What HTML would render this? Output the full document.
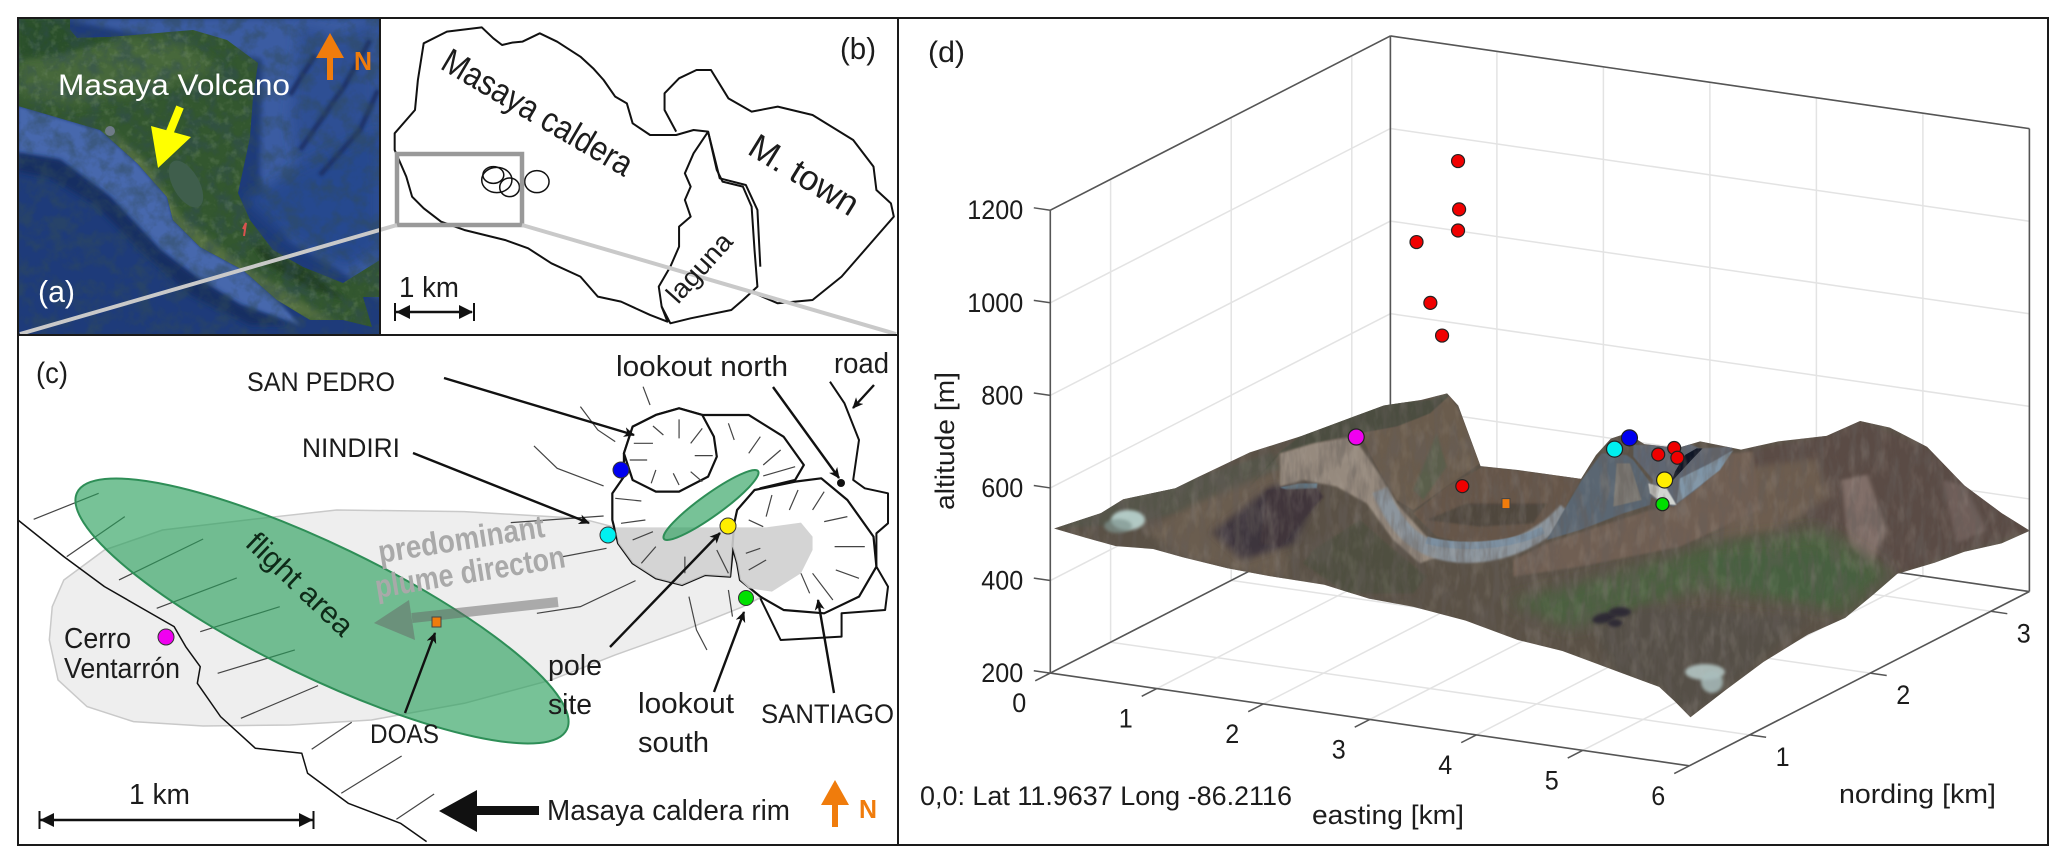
<!DOCTYPE html>
<html lang="en">
<head>
<meta charset="utf-8">
<title>Masaya volcano overview</title>
<style>
html,body{margin:0;padding:0;background:#fff}
svg{display:block}
text{font-family:"Liberation Sans",sans-serif;fill:#1c1c1c}
.o{fill:none;stroke:#111;vector-effect:non-scaling-stroke;stroke-linejoin:round}
.h{fill:none;stroke:#444;stroke-width:1.2;vector-effect:non-scaling-stroke}
</style>
</head>
<body>
<svg id="fig" xmlns="http://www.w3.org/2000/svg" width="2067" height="865" viewBox="0 0 2067 865">
<defs>
<filter id="b1" x="-30%" y="-30%" width="160%" height="160%"><feGaussianBlur stdDeviation="1.5"/></filter>
<filter id="b3" x="-30%" y="-30%" width="160%" height="160%"><feGaussianBlur stdDeviation="3"/></filter>
<filter id="b6" x="-30%" y="-30%" width="160%" height="160%"><feGaussianBlur stdDeviation="6"/></filter>
<filter id="b12" x="-30%" y="-30%" width="160%" height="160%"><feGaussianBlur stdDeviation="12"/></filter>
<filter id="mapnoise" x="0" y="0" width="100%" height="100%"><feTurbulence type="fractalNoise" baseFrequency="0.06" numOctaves="4" seed="7"/><feColorMatrix values="0 0 0 0 0.03 0 0 0 0 0.07 0 0 0 0 0.1 3 0 0 0 -1.2"/></filter>
<filter id="maplight" x="0" y="0" width="100%" height="100%"><feTurbulence type="fractalNoise" baseFrequency="0.12" numOctaves="3" seed="19"/><feColorMatrix values="0 0 0 0 0.6 0 0 0 0 0.7 0 0 0 0 0.5 3 0 0 0 -1.5"/></filter>
<filter id="streak" x="0" y="0" width="100%" height="100%"><feTurbulence type="fractalNoise" baseFrequency="0.12 0.03" numOctaves="3" seed="4"/><feColorMatrix values="0 0 0 0 0.13 0 0 0 0 0.11 0 0 0 0 0.1 3.2 0 0 0 -1.3"/></filter>
<filter id="streaklight" x="0" y="0" width="100%" height="100%"><feTurbulence type="fractalNoise" baseFrequency="0.1 0.04" numOctaves="3" seed="11"/><feColorMatrix values="0 0 0 0 0.72 0 0 0 0 0.66 0 0 0 0 0.58 3 0 0 0 -1.4"/></filter>
<clipPath id="map-clip"><rect x="18" y="18" width="362" height="317"/></clipPath>
<clipPath id="land-clip"><path d="M18 18H70V30L77 38L110 37L193 30L227 40L258 63L253 97L250 137L243 170L238 193L250 220L273 250L303 267L343 283L380 260V297L363 297L372 327L343 320L310 320L277 300L243 270L200 247L173 220L167 197L137 163L100 130L18 106Z"/></clipPath>
<clipPath id="terrain-clip"><path transform="translate(900,0) scale(.7443,.5517)" d="M207 958L270 930L300 905L370 885L400 865L470 820L540 790L610 755L650 735L700 725L735 713L750 735L765 790L780 845L830 852L915 868L935 825L955 795L977 785L1000 805L1045 812L1075 800L1130 815L1180 800L1245 790L1290 763L1330 775L1380 810L1430 880L1480 930L1518 962L1480 985L1430 1000L1390 1020L1340 1040L1310 1075L1270 1120L1220 1150L1160 1200L1110 1250L1062 1300L1040 1270L1020 1245L960 1215L890 1180L830 1160L760 1125L690 1100L630 1085L570 1060L500 1045L440 1030L380 1010L340 995L290 990L250 975Z"/></clipPath>
<marker id="ah" markerWidth="11" markerHeight="10" refX="10" refY="5" orient="auto" markerUnits="userSpaceOnUse" viewBox="0 0 11 10"><path d="M0 0L11 5L0 10L3 5Z" fill="#111"/></marker>
</defs>

<!-- PANEL A -->
<g clip-path="url(#map-clip)">
<rect x="18" y="18" width="362" height="317" fill="#1e3b7a"/>
<path d="M60 18H380V300L340 270L290 240L260 180L262 60Z" fill="#3a5ba2" filter="url(#b3)"/>
<path d="M300 25L340 35L375 18L380 150L345 170L300 190L290 120Z" fill="#2f4f94" filter="url(#b6)"/>
<path d="M245 200L300 165L380 130V250L345 270L290 240Z" fill="#25498f" filter="url(#b6)"/>
<path d="M300 150L345 85L370 40M320 175L360 130L378 90M290 95L315 55" fill="none" stroke="#1b3068" stroke-width="5" filter="url(#b1)"/>
<path d="M18 106L100 130L137 163L167 197L173 220L200 247L243 270L277 300L300 325L240 305L200 280L160 250L110 197L60 160L18 153Z" fill="#4667ad" filter="url(#b1)"/>
<path d="M18 153L60 160L110 197L160 250L200 280L240 305L290 325L250 325L190 295L140 250L95 205L50 178L18 172Z" fill="#172f62" filter="url(#b3)"/>
<rect x="18" y="18" width="362" height="317" filter="url(#mapnoise)" opacity=".5"/>
<g clip-path="url(#land-clip)">
<rect x="18" y="18" width="362" height="317" fill="#33572f"/>
<path d="M18 40L80 35L180 40L220 70L150 90L70 105L18 95Z" fill="#47683b" filter="url(#b6)"/>
<path d="M18 18H70L120 38L60 55L18 60Z" fill="#2b4f2c" filter="url(#b3)"/>
<path d="M100 120L150 165L180 215L240 262L300 300L340 325L290 315L220 265L170 225L130 165Z" fill="#526e40" filter="url(#b3)"/>
<path d="M250 240L310 270L345 300L300 285L265 262Z" fill="#243f23" filter="url(#b3)"/>
<rect x="18" y="18" width="362" height="317" filter="url(#mapnoise)" opacity=".45"/>
<rect x="18" y="18" width="362" height="317" filter="url(#maplight)" opacity=".14"/>
</g>
<ellipse cx="186" cy="184" rx="13" ry="26" transform="rotate(-30 186 184)" fill="#3f5e4c"/>
<circle cx="110" cy="131" r="5" fill="#6f7b88"/>
<path d="M243 229L246 223L244 236" fill="none" stroke="#d9534f" stroke-width="2"/>
</g>
<polygon points="151,126 191,137 158,168" fill="#ff0"/>
<line x1="180" y1="107" x2="169" y2="134" stroke="#ff0" stroke-width="8"/>
<text x="58" y="95" font-size="30" textLength="232" lengthAdjust="spacingAndGlyphs" style="fill:#fff">Masaya Volcano</text>
<text x="38" y="302" font-size="31" textLength="37" lengthAdjust="spacingAndGlyphs" style="fill:#fff">(a)</text>
<polygon points="330,33 316,58 344,58" fill="#f07c0c"/>
<rect x="327" y="56" width="6" height="24" fill="#f07c0c"/>
<text x="354" y="70" font-size="26" font-weight="bold" textLength="18" lengthAdjust="spacingAndGlyphs" style="fill:#f07c0c">N</text>

<!-- PANEL B -->
<g transform="scale(.5804,.3333)">
<path class="o" stroke-width="2" d="M830 82L850 115L865 135L882 128L900 125L930 100L960 125L1000 170L1022 205L1040 240L1060 290L1080 310L1090 370L1120 405L1165 405L1195 390L1220 395L1195 460L1180 520L1190 560L1180 600L1190 650L1170 680L1170 740L1155 800L1135 860L1140 920L1150 965L1120 945L1070 905L1030 890L1000 830L950 790L910 745L870 720L800 690L760 665L730 625L710 590L700 530L680 450L680 400L715 330L720 240L730 130L770 95Z"/>
<path class="o" stroke-width="2" d="M1220 395L1235 510L1245 545L1280 560L1295 620L1300 750L1305 860L1280 900L1260 930L1190 955L1155 970L1140 920"/>
<path class="o" stroke-width="2" d="M1165 395L1145 330L1145 280L1170 235L1200 210L1225 210L1255 295L1295 335L1340 320L1400 345L1470 420L1505 500L1510 570L1535 610L1540 650L1510 710L1480 770L1450 830L1400 900L1340 910L1300 880M1220 395L1240 535L1285 555L1305 630L1310 800"/>
<ellipse class="o" stroke-width="1.5" cx="850" cy="525" rx="18" ry="25"/>
<ellipse class="o" stroke-width="1.5" cx="856" cy="540" rx="26" ry="38"/>
<ellipse class="o" stroke-width="1.5" cx="878" cy="562" rx="17" ry="28"/>
<ellipse class="o" stroke-width="1.5" cx="925" cy="545" rx="21" ry="33"/>
</g>
<rect x="397" y="154" width="125" height="71" fill="none" stroke="#999" stroke-width="4.5"/>
<line x1="397" y1="225" x2="20" y2="334" stroke="#c9c9c9" stroke-width="4"/>
<line x1="522" y1="225" x2="896" y2="334" stroke="#c9c9c9" stroke-width="4"/>
<text transform="translate(439,68) rotate(30.5)" font-size="35" textLength="215" lengthAdjust="spacingAndGlyphs">Masaya caldera</text>
<text transform="translate(746,153) rotate(31.6)" font-size="35" textLength="122" lengthAdjust="spacingAndGlyphs">M. town</text>
<text transform="translate(678,305) rotate(-48)" font-size="27" textLength="84" lengthAdjust="spacingAndGlyphs">laguna</text>
<text x="840" y="59" font-size="31" textLength="36" lengthAdjust="spacingAndGlyphs">(b)</text>
<text x="399" y="297" font-size="29" textLength="60" lengthAdjust="spacingAndGlyphs">1 km</text>
<g>
<line x1="396" y1="312" x2="472" y2="312" stroke="#111" stroke-width="2.5"/>
<path d="M395 303V321M474 303V321" stroke="#111" stroke-width="2" fill="none"/>
<path d="M396 312L410 305V319ZM473 312L459 305V319Z" fill="#111"/>
</g>

<!-- PANEL C -->
<g transform="translate(0,340) scale(.5804,.3333)">
<path d="M1400 590L1380 548L1320 562L1060 562L1000 535L800 515L580 510L450 535L280 570L180 630L110 720L90 800L85 900L100 1020L150 1100L230 1145L350 1158L500 1155L640 1140L800 1090L950 1020L1060 945L1180 870L1280 800L1330 755L1380 700L1400 630Z" fill="#eeeeee" stroke="#c9c9c9" stroke-width="1.5" vector-effect="non-scaling-stroke"/>
<path d="M1075 340L1090 260L1130 225L1170 205L1210 225L1290 225L1350 290L1385 375L1370 420L1310 445L1280 490L1265 550L1262 640L1258 710L1215 705L1175 735L1130 715L1090 670L1065 610L1055 540L1055 460L1075 410Z" class="o" style="fill:#fff" stroke-width="2.2"/>
<path d="M1075 340L1090 260L1130 225L1170 205L1210 225L1230 290L1235 350L1220 410L1170 455L1130 455L1090 420Z" class="o" style="fill:#fff" stroke-width="2.2"/>
<path d="M1270 510L1300 450L1370 425L1415 415L1460 480L1505 590L1510 680L1480 770L1420 820L1350 810L1310 770L1275 720L1270 670L1262 620L1265 550Z" class="o" style="fill:#fff" stroke-width="2.2"/>
<path d="M1060 562L1320 562L1380 548L1400 590L1400 630L1380 700L1330 755L1290 745L1275 720L1270 670L1262 620L1258 710L1215 705L1175 735L1130 715L1090 670L1065 610Z" fill="#cfcfcf" opacity=".9"/>
<path class="o" stroke-width="2" d="M1430 125L1455 190L1480 300L1470 420L1490 445L1530 460L1530 550L1510 580L1510 680L1530 740L1525 810L1450 820L1450 890L1345 900L1310 775"/>
<path class="o" stroke-width="1.5" d="M31 540L110 650L180 740L250 810L300 860L320 920L345 980L340 1030L380 1130L440 1225L520 1240L530 1300L600 1390L690 1450L735 1505"/>
<g>
<path class="h" d="M58 538L170 460M115 650L215 530M205 720L350 597M270 805L408 714M345 875L482 800M375 1000L508 930M415 1135L548 1037M537 1228L606 1147M588 1360L692 1248M683 1438L748 1362M925 820L1000 800L1095 722M880 548L1040 528M970 650L1045 625M920 318L960 385L1040 438M1000 200L1030 270L1060 305M1108 140L1120 195M1187 770L1200 870L1218 930M1255 750L1262 830"/>
<path class="h" d="M1125 258L1143 285M1170 238V295M1210 265L1190 310M1092 310H1125M1197 347H1228M1085 360H1115M1130 390L1122 430M1160 400L1170 435M1190 395L1210 425M1255 250L1265 300M1310 290L1290 340M1345 330L1315 375M1370 380L1315 408M1060 475L1105 483M1070 550L1112 540M1090 600L1125 575M1130 620L1105 670M1180 650V700M1235 630L1255 700M1285 640L1310 625M1290 690L1320 660M1330 465L1320 530M1375 450L1360 510M1420 455L1400 510M1460 530L1420 545M1438 620H1490M1380 700L1395 760M1400 700L1435 780M1440 690L1480 715M1290 540L1315 560"/>
</g>
</g>
<ellipse cx="322" cy="611" rx="272" ry="66" transform="rotate(25.8 322 611)" fill="#2b9f5c" fill-opacity=".64" stroke="#2e8e57" stroke-width="2"/>
<ellipse cx="711" cy="505" rx="58" ry="11" transform="rotate(-35.7 711 505)" fill="#2b9f5c" fill-opacity=".64" stroke="#2e8e57" stroke-width="2"/>
<g>
<line x1="558" y1="602" x2="412" y2="618" stroke="#666" stroke-opacity=".5" stroke-width="10"/>
<polygon points="409,600 374,623 415,640" fill="#666" fill-opacity=".5"/>
</g>
<text transform="translate(380,563) rotate(-9)" font-size="32" font-weight="bold" textLength="168" lengthAdjust="spacingAndGlyphs" style="fill:#a9a9a9">predominant</text>
<text transform="translate(377,598) rotate(-9.3)" font-size="32" font-weight="bold" textLength="192" lengthAdjust="spacingAndGlyphs" style="fill:#a9a9a9">plume directon</text>
<text transform="translate(244,545) rotate(43.5)" font-size="30" textLength="135" lengthAdjust="spacingAndGlyphs" style="fill:#0e2a18">flight area</text>
<g stroke="#111" stroke-width="2.4">
<line x1="444" y1="378" x2="634" y2="435" marker-end="url(#ah)"/>
<line x1="413" y1="453" x2="589" y2="523" marker-end="url(#ah)"/>
<line x1="773" y1="387" x2="839" y2="478" marker-end="url(#ah)"/>
<line x1="874" y1="385" x2="853" y2="408" marker-end="url(#ah)"/>
<line x1="610" y1="647" x2="720" y2="533" marker-end="url(#ah)"/>
<line x1="714" y1="692" x2="744" y2="612" marker-end="url(#ah)"/>
<line x1="834" y1="693" x2="818" y2="600" marker-end="url(#ah)"/>
<line x1="405" y1="713" x2="435" y2="633" marker-end="url(#ah)"/>
</g>
<circle cx="621" cy="470" r="8" fill="#0000f0" stroke="#333"/>
<circle cx="608" cy="535" r="8" fill="#00f0f0" stroke="#333"/>
<circle cx="728" cy="526" r="8" fill="#ffee00" stroke="#333"/>
<circle cx="746" cy="598" r="7.5" fill="#00e000" stroke="#333"/>
<circle cx="166" cy="637" r="8" fill="#f000f0" stroke="#333"/>
<rect x="432" y="617" width="9" height="10" fill="#f07c0c" stroke="#444"/>
<circle cx="841" cy="483" r="4" fill="#111"/>
<text x="36" y="383" font-size="30" textLength="32" lengthAdjust="spacingAndGlyphs">(c)</text>
<text x="247" y="391" font-size="27" textLength="148" lengthAdjust="spacingAndGlyphs">SAN PEDRO</text>
<text x="616" y="376" font-size="29" textLength="172" lengthAdjust="spacingAndGlyphs">lookout north</text>
<text x="834" y="373" font-size="29" textLength="55" lengthAdjust="spacingAndGlyphs">road</text>
<text x="302" y="457" font-size="27" textLength="98" lengthAdjust="spacingAndGlyphs">NINDIRI</text>
<text x="64" y="648" font-size="29" textLength="67" lengthAdjust="spacingAndGlyphs">Cerro</text>
<text x="64" y="678" font-size="29" textLength="116" lengthAdjust="spacingAndGlyphs">Ventarrón</text>
<text x="548" y="675" font-size="29" textLength="54" lengthAdjust="spacingAndGlyphs">pole</text>
<text x="548" y="714" font-size="29" textLength="44" lengthAdjust="spacingAndGlyphs">site</text>
<text x="638" y="713" font-size="29" textLength="96" lengthAdjust="spacingAndGlyphs">lookout</text>
<text x="638" y="752" font-size="29" textLength="71" lengthAdjust="spacingAndGlyphs">south</text>
<text x="761" y="723" font-size="27" textLength="133" lengthAdjust="spacingAndGlyphs">SANTIAGO</text>
<text x="370" y="743" font-size="27" textLength="69" lengthAdjust="spacingAndGlyphs">DOAS</text>
<text x="129" y="804" font-size="29" textLength="61" lengthAdjust="spacingAndGlyphs">1 km</text>
<g>
<line x1="40" y1="820" x2="313" y2="820" stroke="#111" stroke-width="2.5"/>
<path d="M39.5 811V829M313.5 811V829" stroke="#111" stroke-width="2" fill="none"/>
<path d="M40 820L54 813V827ZM313 820L299 813V827Z" fill="#111"/>
</g>
<polygon points="477,790 439,811 477,832" fill="#111"/>
<rect x="475" y="806" width="64" height="9" fill="#111"/>
<text x="547" y="820" font-size="29" textLength="243" lengthAdjust="spacingAndGlyphs">Masaya caldera rim</text>
<polygon points="835,780 821,805 849,805" fill="#f07c0c"/>
<rect x="832" y="803" width="6" height="24" fill="#f07c0c"/>
<text x="859" y="818" font-size="26" font-weight="bold" textLength="18" lengthAdjust="spacingAndGlyphs" style="fill:#f07c0c">N</text>

<!-- PANEL D -->
<g id="grid-layer"></g>
<g clip-path="url(#terrain-clip)">
<g transform="translate(900,0) scale(.7443,.5517)">
<rect x="190" y="700" width="1340" height="620" fill="#5a5146"/>
<path d="M207 958L300 905L400 865L500 820L510 850L440 900L380 930L300 950Z" fill="#555448" filter="url(#b3)"/>
<path d="M330 960L400 910L510 850L520 1050L440 1030L380 1010Z" fill="#6a5d50" filter="url(#b6)"/>
<path d="M420 965L500 880L565 880L530 985L460 1015Z" fill="#3d353c" filter="url(#b6)"/>
<path d="M1130 820L1245 790L1290 763L1380 810L1518 962L1400 1010L1340 1040L1260 960L1150 890Z" fill="#5a4c45" filter="url(#b3)"/>
<path d="M1265 870L1300 860L1325 960L1305 1030L1275 990Z" fill="#806e67" filter="url(#b3)"/>
<path d="M1400 870L1430 880L1460 960L1420 985Z" fill="#6f5f5a" filter="url(#b3)"/>
<path d="M1130 850L1230 830L1250 900L1180 960L1100 980Z" fill="#6d5d50" filter="url(#b6)"/>
<path d="M820 1090L960 1040L1100 985L1240 960L1330 1040L1270 1110L1080 1065L900 1140Z" fill="#4b6040" filter="url(#b12)"/>
<path d="M1080 1010L1240 1000L1300 1050L1240 1090L1120 1060Z" fill="#46603f" filter="url(#b6)"/>
<path d="M930 1140L1000 1100L1220 1120L1110 1250L1062 1300L1020 1245L960 1215Z" fill="#544f46" filter="url(#b6)"/>
</g>
<g transform="translate(1280,390) scale(.3333)">
<path d="M-100 300L0 190L100 160L240 130L350 110L450 80L520 40L500 12L450 30L330 40L230 70L80 125L0 185Z" fill="#4b4e41" filter="url(#b1)"/>
<path d="M0 190L100 160L220 140L290 240L350 340L440 440L500 490L420 520L340 450L260 340L170 290L70 270L0 290Z" fill="#968a7e" filter="url(#b3)"/>
<path d="M240 130L350 110L450 70L510 15L550 90L600 220L500 290L400 360L350 330L290 230Z" fill="#6b5c4e" filter="url(#b1)"/>
<path d="M470 130L500 230L430 330L400 300Z" fill="#5a5f4b" filter="url(#b3)"/>
<path d="M400 370L500 290L610 230L905 265L840 380L760 450L620 470L470 440Z" fill="#66574a" filter="url(#b1)"/>
<path d="M440 390L560 340L800 340L760 400L600 410Z" fill="#4f473d" filter="url(#b3)"/>
<path d="M300 300C350 420 420 495 560 495C680 495 790 440 860 360" fill="none" stroke="#8c959d" stroke-width="48" filter="url(#b3)"/>
<path d="M440 450C520 475 680 475 790 420" fill="none" stroke="#7b8fa0" stroke-width="22" filter="url(#b1)"/>
<path d="M0 292L60 280L112 280L110 296L20 300Z" fill="#5f7a8c" filter="url(#b1)"/>
<path d="M-40 300L110 295L130 320L60 400L0 470L-60 460Z" fill="#3f363a" filter="url(#b3)"/>
<path d="M100 480L240 390L330 470L440 560L400 610L200 610L70 520Z" fill="#4f503f" filter="url(#b3)"/>
<path d="M700 510L800 460L1110 360L1180 350L1350 190L1420 185L1440 360L1200 470L900 530L700 560Z" fill="#6f5f52" filter="url(#b3)"/>
<path d="M800 450L905 270L965 190L1040 195L1060 210L1120 290L1110 345L1030 370L900 420Z" fill="#5a6672" filter="url(#b1)"/>
<path d="M1010 220L1050 220L1085 330L1000 350Z" fill="#7d7a74" filter="url(#b1)"/>
<path d="M1060 165L1130 165L1200 150L1260 175L1360 170L1330 220L1260 290L1180 350L1110 320L1120 270L1060 200Z" fill="#5e6672" filter="url(#b1)"/>
<path d="M1200 265L1290 220L1360 180L1320 240L1230 310L1190 340Z" fill="#7f95a7" filter="url(#b1)"/>
<path d="M1105 280L1160 295L1190 345L1150 342L1110 310Z" fill="#d2d5d2" filter="url(#b1)"/>
<path d="M1175 275L1230 215L1268 175L1250 175L1215 195L1185 245Z" fill="#0f1626"/>
</g>
<rect x="1050" y="385" width="1000" height="345" filter="url(#streak)" opacity=".45"/>
<rect x="1050" y="385" width="1000" height="345" filter="url(#streaklight)" opacity=".1"/>
<g>
<ellipse cx="1705" cy="672" rx="20" ry="8" fill="#b9cccb" opacity=".85" filter="url(#b1)"/>
<ellipse cx="1712" cy="682" rx="11" ry="11" fill="#a9bdbc" opacity=".85" filter="url(#b1)"/>
</g>
<g>
<ellipse cx="1128" cy="520" rx="17" ry="10" fill="#bcd6d2" opacity=".9" filter="url(#b1)"/>
<ellipse cx="1118" cy="526" rx="14" ry="7" fill="#7f948f" opacity=".7" filter="url(#b1)"/>
</g>
<g>
<ellipse cx="1604" cy="618" rx="12" ry="5" transform="rotate(-12 1604 618)" fill="#2f2b36" filter="url(#b1)"/>
<ellipse cx="1620" cy="612" rx="11" ry="5" fill="#2f2b36" filter="url(#b1)"/>
<ellipse cx="1615" cy="623" rx="7" ry="4" fill="#2f2b36" filter="url(#b1)"/>
</g>
</g>
<g id="marker-layer"></g>
<g id="label-layer"></g>
<text x="928" y="62" font-size="30" textLength="37" lengthAdjust="spacingAndGlyphs">(d)</text>
<text transform="translate(954,510) rotate(-90)" font-size="27" textLength="138" lengthAdjust="spacingAndGlyphs">altitude [m]</text>
<text x="1312" y="824" font-size="27" textLength="152" lengthAdjust="spacingAndGlyphs">easting [km]</text>
<text x="1839" y="803" font-size="27" textLength="157" lengthAdjust="spacingAndGlyphs">nording [km]</text>
<text x="920" y="805" font-size="27" textLength="372" lengthAdjust="spacingAndGlyphs">0,0: Lat 11.9637 Long -86.2116</text>

<!-- FRAME -->
<g fill="none" stroke="#1a1a1a" stroke-width="2">
<rect x="18" y="18" width="2030" height="827"/>
<line x1="380" y1="18" x2="380" y2="335"/>
<line x1="18" y1="335" x2="898" y2="335"/>
<line x1="898" y1="18" x2="898" y2="845"/>
</g>
</svg>
<script>
const eastingTicks = [0, 1, 2, 3, 4, 5, 6];
const nordingTicks = [1, 2, 3];
const altitudeTicks = [200, 400, 600, 800, 1000, 1200];
const flightEasting = [2.13, 2.14, 2.13, 1.74, 1.87, 1.98, 2.17, 3.33, 3.48, 3.51];
const flightNording = [2.0, 2.0, 2.0, 2.0, 2.0, 2.0, 2.0, 2.6, 2.6, 2.6];
const flightAltitude = [1177, 1073, 1027, 989, 862, 795, 476, 503, 522, 502];
const siteNames = ['cerro-ventarron', 'nindiri', 'san-pedro', 'pole-site', 'lookout-south'];
const siteEasting = [2.08, 2.92, 3.06, 3.39, 3.37];
const siteNording = [1.2, 2.6, 2.6, 2.6, 2.6];
const siteAltitude = [686, 501, 530, 450, 397];
const doasEasting = [2.58];
const doasNording = [2.0];
const doasAltitude = [452];

const N0 = 0.5, N1 = 3.32, E0 = 0, E1 = 6, Z0 = 200, Z1 = 1200;
function px(e, n, z) { return 1050.3 + 106.5 * e + 120.6 * (n - N0); }
function py(e, n, z) { return 673.1 + 15.45 * e - 61.8 * (n - N0) - 0.4629 * (z - Z0); }
const NS = 'http://www.w3.org/2000/svg';
const gridLayer = document.getElementById('grid-layer');
const markerLayer = document.getElementById('marker-layer');
const labelLayer = document.getElementById('label-layer');
function seg(a, b, color, w) {
  const l = document.createElementNS(NS, 'line');
  l.setAttribute('x1', px(a[0], a[1], a[2]));
  l.setAttribute('y1', py(a[0], a[1], a[2]));
  l.setAttribute('x2', px(b[0], b[1], b[2]));
  l.setAttribute('y2', py(b[0], b[1], b[2]));
  l.setAttribute('stroke', color);
  l.setAttribute('stroke-width', w);
  gridLayer.appendChild(l);
  return l;
}
function label(x, y, str, anchor) {
  const t = document.createElementNS(NS, 'text');
  t.setAttribute('x', x);
  t.setAttribute('y', y);
  t.setAttribute('font-size', '27');
  t.setAttribute('text-anchor', anchor);
  t.setAttribute('textLength', 14 * str.length);
  t.setAttribute('lengthAdjust', 'spacingAndGlyphs');
  t.textContent = str;
  labelLayer.appendChild(t);
  return t;
}
const GRID = '#e3e3e3', AXIS = '#555555';
eastingTicks.forEach(function (e) {
  const g1 = seg([e, N0, Z0], [e, N1, Z0], GRID, 1.5);
  
  
  const g2 = seg([e, N1, Z0], [e, N1, Z1], GRID, 1.5);
  
  
  const tk = seg([e, N0, Z0], [e, N0 - 0.125, Z0], AXIS, 1.5);
  
  
  const lb = label(px(e, N0, Z0) - 31, py(e, N0, Z0) + 39, String(e), 'middle');
  
  
});
nordingTicks.forEach(function (n) {
  const g1 = seg([E0, n, Z0], [E1, n, Z0], GRID, 1.5);
  
  
  const g2 = seg([E0, n, Z0], [E0, n, Z1], GRID, 1.5);
  
  
  const tk = seg([E1, n, Z0], [E1 + 0.155, n, Z0], AXIS, 1.5);
  
  
  const lb = label(px(E1, n, Z0) + 33, py(E1, n, Z0) + 31, String(n), 'middle');
  
  
});
altitudeTicks.forEach(function (z) {
  const g1 = seg([E0, N0, z], [E0, N1, z], GRID, 1.5);
  
  
  const g2 = seg([E0, N1, z], [E1, N1, z], GRID, 1.5);
  
  
  const tk = seg([E0, N0, z], [E0 - 0.155, N0, z], AXIS, 1.5);
  
  
  const lb = label(px(E0, N0, z) - 27, py(E0, N0, z) + 9, String(z), 'end');
  
  
});
const edges = [
  [[E0, N0, Z0], [E1, N0, Z0]],
  [[E1, N0, Z0], [E1, N1, Z0]],
  [[E0, N0, Z0], [E0, N1, Z0]],
  [[E0, N1, Z0], [E1, N1, Z0]],
  [[E0, N0, Z0], [E0, N0, Z1]],
  [[E0, N1, Z0], [E0, N1, Z1]],
  [[E1, N1, Z0], [E1, N1, Z1]],
  [[E0, N0, Z1], [E0, N1, Z1]],
  [[E0, N1, Z1], [E1, N1, Z1]]
];
edges.forEach(function (ed) {
  const l = seg(ed[0], ed[1], AXIS, 1.6);
  
  
});
function dot(e, n, z, r, fill) {
  const c = document.createElementNS(NS, 'circle');
  c.setAttribute('cx', px(e, n, z));
  c.setAttribute('cy', py(e, n, z));
  c.setAttribute('r', r);
  c.setAttribute('fill', fill);
  c.setAttribute('stroke', '#222');
  c.setAttribute('stroke-width', '1.2');
  markerLayer.appendChild(c);
  return c;
}
flightEasting.forEach(function (e, i) {
  const c = dot(e, flightNording[i], flightAltitude[i], 6.5, '#f00000');
  
  
});
const siteFill = { 'cerro-ventarron': '#f000f0', 'nindiri': '#00f0f0', 'san-pedro': '#0000f0', 'pole-site': '#ffee00', 'lookout-south': '#00e000' };
siteNames.forEach(function (name, i) {
  const c = dot(siteEasting[i], siteNording[i], siteAltitude[i], name === 'lookout-south' ? 6.5 : 8, siteFill[name]);
  
  
});
doasEasting.forEach(function (e, i) {
  const r = document.createElementNS(NS, 'rect');
  r.setAttribute('x', px(e, doasNording[i], doasAltitude[i]) - 4);
  r.setAttribute('y', py(e, doasNording[i], doasAltitude[i]) - 5);
  r.setAttribute('width', 8);
  r.setAttribute('height', 10);
  r.setAttribute('fill', '#f07c0c');
  r.setAttribute('stroke', '#444');
  
  
  markerLayer.appendChild(r);
});
</script>
</body>
</html>
